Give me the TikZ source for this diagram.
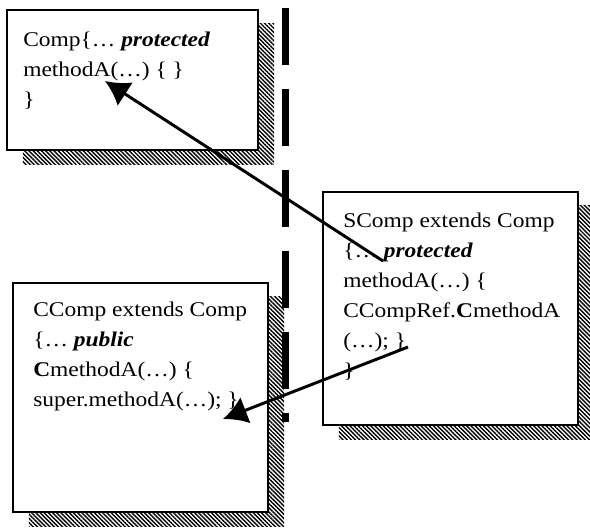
\documentclass[tikz,border=0pt]{standalone}
\usepackage{fontspec}
\setmainfont{Liberation Serif}[FakeStretch=1.12]
\usetikzlibrary{arrows.meta,shadows,patterns.meta}

\begin{document}
\begin{tikzpicture}[x=0.025cm, y=-0.025cm,
    classbox/.style={draw, fill=white, line width=1pt, inner sep=0pt,
      drop shadow={shadow xshift=0.4cm, shadow yshift=-0.35cm, opacity=1,
        pattern={Lines[angle=-45,distance=2.1pt,line width=1pt]}}},
    code/.style={anchor=base west, align=left, inner sep=0pt,
      font=\fontsize{14.9}{21.3}\selectfont},
    call/.style={-{Latex[length=6mm,width=7mm]}, line width=2.1pt},
    divider/.style={line width=5pt, dash pattern=on 1.425cm off 0.6cm}
  ]
  \useasboundingbox (0,0) rectangle (590,527);
  \node[classbox, minimum width=6.275cm, minimum height=3.5cm] (comp) at (132.5,80) {};
  \node[classbox, minimum width=6.375cm, minimum height=5.825cm] (scomp) at (450.5,308.5) {};
  \node[classbox, minimum width=6.375cm, minimum height=5.725cm] (ccomp) at (140.5,397.5) {};
  \node[code] (comptext) at (23,106)
    {Comp\{…\ \textbf{\textit{protected}}\\ methodA(…) \{ \}\\ \}};
  \node[code] (scomptext) at (343,377)
    {SComp extends Comp\\ \{…\ \textbf{\textit{protected}}\\ methodA(…) \{\\
     CCompRef.\textbf{C}methodA\\ (…); \}\\ \}};
  \node[code] (ccomptext) at (33,406)
    {CComp extends Comp\\ \{…\ \textbf{\textit{public}}\\ \textbf{C}methodA(…) \{\\
     super.methodA(…); \}};
  \coordinate (divtop) at (285.5,8);
  \coordinate (divbot) at (285.5,422);
  \draw[divider] (divtop) -- (divbot);
  \coordinate (supercall) at (383,261);
  \coordinate (methodA) at (105,81);
  \coordinate (crefcall) at (408,347);
  \coordinate (cmethodA) at (223,419);
  \draw[call] (supercall) -- (methodA);
  \draw[call] (crefcall) -- (cmethodA);
\end{tikzpicture}
\end{document}
